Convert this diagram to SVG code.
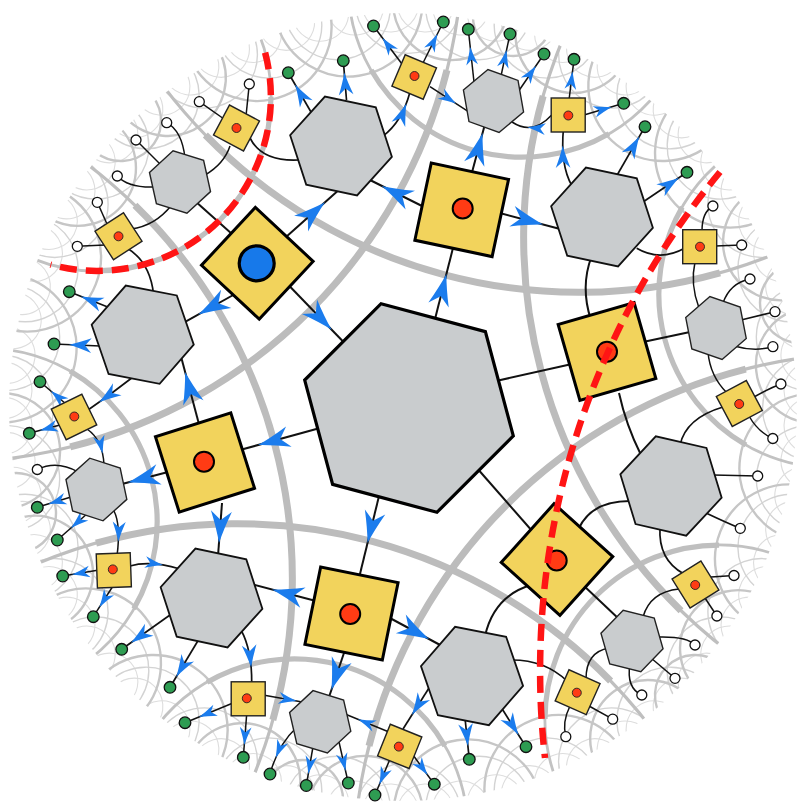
<svg xmlns="http://www.w3.org/2000/svg" width="798" height="809" viewBox="0 0 798 809">
<defs>
<style>
.gA{fill:none;stroke:#bfbfbf;stroke-width:3.2}
.gB{fill:none;stroke:#bcbcbc;stroke-width:7}
.mA{fill:none;stroke:#c2c2c2;stroke-width:2.8}
.mB{fill:none;stroke:#bfbfbf;stroke-width:5.2}
.h2{fill:none;stroke:#c6c6c6;stroke-width:2.4}
.r2{fill:none;stroke:#d3d3d3;stroke-width:1.4}
.r1{fill:none;stroke:#dddddd;stroke-width:1.1}
.cb{fill:none;stroke:#111;stroke-width:2}
.cm{fill:none;stroke:#111;stroke-width:1.7}
.cs{fill:none;stroke:#111;stroke-width:1.5}
.ar{fill:#1b7ced}
.hL{fill:#c9ccce;stroke:#000;stroke-width:3.2}
.hM{fill:#c9ccce;stroke:#111;stroke-width:1.8}
.hS{fill:#c9ccce;stroke:#222;stroke-width:1.4}
.sL{fill:#f2d35c;stroke:#000;stroke-width:3}
.sS{fill:#f2d35c;stroke:#222;stroke-width:1.4}
.rdL{fill:#ff3b14;stroke:#000;stroke-width:2}
.rdS{fill:#ff3b14;stroke:#222;stroke-width:0.9}
.bl{fill:#1779ea;stroke:#000;stroke-width:3.2}
.gr{fill:#2e9c52;stroke:#111;stroke-width:1.3}
.wh{fill:#fff;stroke:#111;stroke-width:1.3}
.red{fill:none;stroke:#ff1414;stroke-width:6.5;stroke-dasharray:17 9}
</style>
<clipPath id="disk"><circle cx="403" cy="407" r="394"/></clipPath>
<path id="g0" d="M655.4,88.6 A521.4,521.4 0 0 0 655.4,727.4"/>
<path id="g0i" d="M619.3,141.6 A521.4,521.4 0 0 0 619.3,674.4"/>
<path id="m0" d="M779.1,248.2 A173.9,173.9 0 0 0 779.1,567.8"/>
<path id="m0i" d="M724.9,284.9 A173.9,173.9 0 0 0 724.9,531.1"/>
<path id="ha" d="M805.3,334.65 A74.5,74.5 0 0 0 805.3,481.35"/>
<path id="hxe" d="M810,368.1 A40.1,40.1 0 0 0 810,447.9"/>
<path id="hxd" d="M807.9,350.6 A58,58 0 0 0 807.9,465.4"/>
<path id="r1" d="M811,379.8 A28.25,28.25 0 0 0 811,436.2"/>
<path id="r2" d="M808.5,355.3 A53.2,53.2 0 0 0 808.5,460.7"/>
<polygon id="hexL" points="108,0 54,93.53 -54,93.53 -108,0 -54,-93.53 54,-93.53"/>
<polygon id="hexM" points="52,0 26,45.03 -26,45.03 -52,0 -26,-45.03 26,-45.03"/>
<polygon id="hexS" points="32,0 16,27.71 -16,27.71 -32,0 -16,-27.71 16,-27.71"/>
<rect id="sqL" x="-39.5" y="-39.5" width="79" height="79"/>
<rect id="sqS" x="-17" y="-17" width="34" height="34"/>
<path id="arr" d="M0,0 Q-14,-3.5 -32,-10.5 L-23,0 L-32,10.5 Q-14,3.5 0,0 Z"/>
</defs>
<rect width="798" height="809" fill="#fff"/>
<g id="grid" clip-path="url(#disk)">
<g class="r1">
<use href="#r1" transform="rotate(2.5 408 408)"/><use href="#r1" transform="rotate(7.5 408 408)"/><use href="#r1" transform="rotate(12.5 408 408)"/><use href="#r1" transform="rotate(17.5 408 408)"/><use href="#r1" transform="rotate(22.5 408 408)"/><use href="#r1" transform="rotate(27.5 408 408)"/><use href="#r1" transform="rotate(32.5 408 408)"/><use href="#r1" transform="rotate(37.5 408 408)"/><use href="#r1" transform="rotate(42.5 408 408)"/><use href="#r1" transform="rotate(47.5 408 408)"/><use href="#r1" transform="rotate(52.5 408 408)"/><use href="#r1" transform="rotate(57.5 408 408)"/><use href="#r1" transform="rotate(62.5 408 408)"/><use href="#r1" transform="rotate(67.5 408 408)"/><use href="#r1" transform="rotate(72.5 408 408)"/><use href="#r1" transform="rotate(77.5 408 408)"/><use href="#r1" transform="rotate(82.5 408 408)"/><use href="#r1" transform="rotate(87.5 408 408)"/><use href="#r1" transform="rotate(92.5 408 408)"/><use href="#r1" transform="rotate(97.5 408 408)"/><use href="#r1" transform="rotate(102.5 408 408)"/><use href="#r1" transform="rotate(107.5 408 408)"/><use href="#r1" transform="rotate(112.5 408 408)"/><use href="#r1" transform="rotate(117.5 408 408)"/><use href="#r1" transform="rotate(122.5 408 408)"/><use href="#r1" transform="rotate(127.5 408 408)"/><use href="#r1" transform="rotate(132.5 408 408)"/><use href="#r1" transform="rotate(137.5 408 408)"/><use href="#r1" transform="rotate(142.5 408 408)"/><use href="#r1" transform="rotate(147.5 408 408)"/><use href="#r1" transform="rotate(152.5 408 408)"/><use href="#r1" transform="rotate(157.5 408 408)"/><use href="#r1" transform="rotate(162.5 408 408)"/><use href="#r1" transform="rotate(167.5 408 408)"/><use href="#r1" transform="rotate(172.5 408 408)"/><use href="#r1" transform="rotate(177.5 408 408)"/><use href="#r1" transform="rotate(182.5 408 408)"/><use href="#r1" transform="rotate(187.5 408 408)"/><use href="#r1" transform="rotate(192.5 408 408)"/><use href="#r1" transform="rotate(197.5 408 408)"/><use href="#r1" transform="rotate(202.5 408 408)"/><use href="#r1" transform="rotate(207.5 408 408)"/><use href="#r1" transform="rotate(212.5 408 408)"/><use href="#r1" transform="rotate(217.5 408 408)"/><use href="#r1" transform="rotate(222.5 408 408)"/><use href="#r1" transform="rotate(227.5 408 408)"/><use href="#r1" transform="rotate(232.5 408 408)"/><use href="#r1" transform="rotate(237.5 408 408)"/><use href="#r1" transform="rotate(242.5 408 408)"/><use href="#r1" transform="rotate(247.5 408 408)"/><use href="#r1" transform="rotate(252.5 408 408)"/><use href="#r1" transform="rotate(257.5 408 408)"/><use href="#r1" transform="rotate(262.5 408 408)"/><use href="#r1" transform="rotate(267.5 408 408)"/><use href="#r1" transform="rotate(272.5 408 408)"/><use href="#r1" transform="rotate(277.5 408 408)"/><use href="#r1" transform="rotate(282.5 408 408)"/><use href="#r1" transform="rotate(287.5 408 408)"/><use href="#r1" transform="rotate(292.5 408 408)"/><use href="#r1" transform="rotate(297.5 408 408)"/><use href="#r1" transform="rotate(302.5 408 408)"/><use href="#r1" transform="rotate(307.5 408 408)"/><use href="#r1" transform="rotate(312.5 408 408)"/><use href="#r1" transform="rotate(317.5 408 408)"/><use href="#r1" transform="rotate(322.5 408 408)"/><use href="#r1" transform="rotate(327.5 408 408)"/><use href="#r1" transform="rotate(332.5 408 408)"/><use href="#r1" transform="rotate(337.5 408 408)"/><use href="#r1" transform="rotate(342.5 408 408)"/><use href="#r1" transform="rotate(347.5 408 408)"/><use href="#r1" transform="rotate(352.5 408 408)"/><use href="#r1" transform="rotate(357.5 408 408)"/>
</g>
<g class="r2">
<use href="#r2" transform="rotate(0 408 408)"/><use href="#r2" transform="rotate(10 408 408)"/><use href="#r2" transform="rotate(20 408 408)"/><use href="#r2" transform="rotate(30 408 408)"/><use href="#r2" transform="rotate(40 408 408)"/><use href="#r2" transform="rotate(50 408 408)"/><use href="#r2" transform="rotate(60 408 408)"/><use href="#r2" transform="rotate(70 408 408)"/><use href="#r2" transform="rotate(80 408 408)"/><use href="#r2" transform="rotate(90 408 408)"/><use href="#r2" transform="rotate(100 408 408)"/><use href="#r2" transform="rotate(110 408 408)"/><use href="#r2" transform="rotate(120 408 408)"/><use href="#r2" transform="rotate(130 408 408)"/><use href="#r2" transform="rotate(140 408 408)"/><use href="#r2" transform="rotate(150 408 408)"/><use href="#r2" transform="rotate(160 408 408)"/><use href="#r2" transform="rotate(170 408 408)"/><use href="#r2" transform="rotate(180 408 408)"/><use href="#r2" transform="rotate(190 408 408)"/><use href="#r2" transform="rotate(200 408 408)"/><use href="#r2" transform="rotate(210 408 408)"/><use href="#r2" transform="rotate(220 408 408)"/><use href="#r2" transform="rotate(230 408 408)"/><use href="#r2" transform="rotate(240 408 408)"/><use href="#r2" transform="rotate(250 408 408)"/><use href="#r2" transform="rotate(260 408 408)"/><use href="#r2" transform="rotate(270 408 408)"/><use href="#r2" transform="rotate(280 408 408)"/><use href="#r2" transform="rotate(290 408 408)"/><use href="#r2" transform="rotate(300 408 408)"/><use href="#r2" transform="rotate(310 408 408)"/><use href="#r2" transform="rotate(320 408 408)"/><use href="#r2" transform="rotate(330 408 408)"/><use href="#r2" transform="rotate(340 408 408)"/><use href="#r2" transform="rotate(350 408 408)"/>
</g>
<g class="h2">
<use href="#ha" transform="rotate(-111.59 408 408)"/><use href="#ha" transform="rotate(-98.41 408 408)"/><use href="#ha" transform="rotate(-51.59 408 408)"/><use href="#ha" transform="rotate(-38.41 408 408)"/><use href="#ha" transform="rotate(8.41 408 408)"/><use href="#ha" transform="rotate(21.59 408 408)"/><use href="#ha" transform="rotate(68.41 408 408)"/><use href="#ha" transform="rotate(81.59 408 408)"/><use href="#ha" transform="rotate(128.41 408 408)"/><use href="#ha" transform="rotate(141.59 408 408)"/><use href="#ha" transform="rotate(188.41 408 408)"/><use href="#ha" transform="rotate(201.59 408 408)"/>
<use href="#hxe" transform="rotate(-135 408 408)"/><use href="#hxe" transform="rotate(-75 408 408)"/><use href="#hxe" transform="rotate(-15 408 408)"/><use href="#hxe" transform="rotate(45 408 408)"/><use href="#hxe" transform="rotate(105 408 408)"/><use href="#hxe" transform="rotate(165 408 408)"/>
<use href="#hxd" transform="rotate(-143.95 408 408)"/><use href="#hxd" transform="rotate(-126.05 408 408)"/><use href="#hxd" transform="rotate(-83.95 408 408)"/><use href="#hxd" transform="rotate(-66.05 408 408)"/><use href="#hxd" transform="rotate(-23.95 408 408)"/><use href="#hxd" transform="rotate(-6.05 408 408)"/><use href="#hxd" transform="rotate(36.05 408 408)"/><use href="#hxd" transform="rotate(53.95 408 408)"/><use href="#hxd" transform="rotate(96.05 408 408)"/><use href="#hxd" transform="rotate(113.95 408 408)"/><use href="#hxd" transform="rotate(156.05 408 408)"/><use href="#hxd" transform="rotate(173.95 408 408)"/>
</g>
<g class="mA">
<use href="#m0" transform="rotate(-135 408 408)"/><use href="#m0" transform="rotate(-75 408 408)"/><use href="#m0" transform="rotate(-15 408 408)"/><use href="#m0" transform="rotate(45 408 408)"/><use href="#m0" transform="rotate(105 408 408)"/><use href="#m0" transform="rotate(165 408 408)"/>
</g>
<g class="mB">
<use href="#m0i" transform="rotate(-135 408 408)"/><use href="#m0i" transform="rotate(-75 408 408)"/><use href="#m0i" transform="rotate(-15 408 408)"/><use href="#m0i" transform="rotate(45 408 408)"/><use href="#m0i" transform="rotate(105 408 408)"/><use href="#m0i" transform="rotate(165 408 408)"/>
</g>
<g class="gA">
<use href="#g0" transform="rotate(-135 408 408)"/><use href="#g0" transform="rotate(-75 408 408)"/><use href="#g0" transform="rotate(-15 408 408)"/><use href="#g0" transform="rotate(45 408 408)"/><use href="#g0" transform="rotate(105 408 408)"/><use href="#g0" transform="rotate(165 408 408)"/>
</g>
<g class="gB">
<use href="#g0i" transform="rotate(-135 408 408)"/><use href="#g0i" transform="rotate(-75 408 408)"/><use href="#g0i" transform="rotate(-15 408 408)"/><use href="#g0i" transform="rotate(45 408 408)"/><use href="#g0i" transform="rotate(105 408 408)"/><use href="#g0i" transform="rotate(165 408 408)"/>
</g>
</g>
<g id="connectors">
<g class="cb">
<path d="M434,323 L454,244"/>
<path d="M496,381 L572,364"/>
<path d="M476,467 L533,532"/>
<path d="M380,492 L359,578"/>
<path d="M320,428 L240,450"/>
<path d="M287,283.5 L345,343.5"/>
<path d="M286,237 L341,188"/>
<path d="M235,294 L182,323.7"/>
<path d="M232,234 L195,201"/>
<path d="M424,207 L368,179"/>
<path d="M496,212 L562,229.5"/>
<path d="M471,176 L485,124"/>
<path d="M591.7,256 Q580,287 591,320"/>
<path d="M643,342 L690,332"/>
<path d="M619,393 Q626,425 641,455"/>
<path d="M579,528 Q592,501 630,501"/>
<path d="M583,585 L620,620"/>
<path d="M531,585 Q494,596 485,636"/>
<path d="M316,601 L251,584"/>
<path d="M388,617 L442,646"/>
<path d="M345,650 L329,697"/>
<path d="M200,428 L180.6,355"/>
<path d="M170,471.5 L122,484"/>
<path d="M222,503 L218,556"/>
</g>
<g class="cm">
<path d="M383,136 Q402,122 410,92"/>
<path d="M346.5,100 L343.3,60.7"/>
<path d="M311,112 L288.3,72.7"/>
<path d="M250,138 Q262,162 299,160"/>
<path d="M572,186 Q560,165 563.5,128"/>
<path d="M616,177 L645,126.7"/>
<path d="M643,202 L687,172.3"/>
<path d="M636.7,248.3 Q660,262 685,248"/>
<path d="M723,407 Q686,418 680,445"/>
<path d="M713,475 L757.7,476"/>
<path d="M706,513 Q725,522 740,528.3"/>
<path d="M660,527 Q658,560 684,574"/>
<path d="M501.7,708.3 L526,746.7"/>
<path d="M465,718 L469.3,759.3"/>
<path d="M429,688 L403,729"/>
<path d="M512,660 Q545,660 567,681"/>
<path d="M170,615 L121.7,649.3"/>
<path d="M199,639 L170,687.3"/>
<path d="M241,630 Q252,650 251.7,683"/>
<path d="M130,566 Q150,560 180,569"/>
<path d="M109,307.5 L69.3,291.7"/>
<path d="M100,346 L54,344"/>
<path d="M131.7,378 Q110,395 88,410"/>
<path d="M127,248 Q150,262 153.5,294"/>
</g>
<g class="cs">
<path d="M430,86.7 L468,111.3"/>
<path d="M551.7,115 Q532.7,135.7 512,122"/>
<path d="M474,82 L468.3,29.3"/>
<path d="M501,76 L510,34"/>
<path d="M518,92 L544,54"/>
<path d="M402,64 L373.5,26"/>
<path d="M422,65 L443.3,22"/>
<path d="M569,100 L574,59.3"/>
<path d="M584,115 L623.7,103.3"/>
<path d="M246,116 Q248,97 249.3,84"/>
<path d="M224,119 L199.3,101.7"/>
<path d="M230,146 Q224,164 205,175"/>
<path d="M185,158 Q182,131 166.7,122.7"/>
<path d="M161,165 L136,140"/>
<path d="M155,187 Q128,188 117.3,176"/>
<path d="M171.7,205 Q155,226 131,229"/>
<path d="M107,224 L97.3,202.3"/>
<path d="M105,245 L77.3,246.3"/>
<path d="M78,472 Q57,460 37.3,469.5"/>
<path d="M71,497 L37.3,507.3"/>
<path d="M88,513 L57.3,540"/>
<path d="M87,429 Q103,440 104,465"/>
<path d="M114,511 Q121,525 117,556"/>
<path d="M66,404 L40,381.7"/>
<path d="M60,425 L29.3,433.3"/>
<path d="M99,570 L62.7,576"/>
<path d="M113,586 L93.3,616.7"/>
<path d="M233,703 L185,722.7"/>
<path d="M246.7,714 L243.3,757.3"/>
<path d="M263,695 L305,702.6"/>
<path d="M296,728 Q278,745 270,774"/>
<path d="M313.3,745 L306.3,785.5"/>
<path d="M339,742 L348.3,783"/>
<path d="M389,732 L345,714"/>
<path d="M390,759 L375,795"/>
<path d="M413,755 L434.3,784.2"/>
<path d="M589,706 L612.7,719.2"/>
<path d="M570,706 Q562,722 565.8,736.7"/>
<path d="M609,648 Q586,652 586,679"/>
<path d="M657,637 Q687,636 695,645"/>
<path d="M651,658 L675,678.3"/>
<path d="M630,664 Q626,688 641.8,695"/>
<path d="M679,589 Q650,592 643,617"/>
<path d="M711,577 L734,575.5"/>
<path d="M705,598 L716.9,616"/>
<path d="M754,397 Q770,388 780.9,384"/>
<path d="M749,416 Q758,432 772.8,438.5"/>
<path d="M708,352 Q710,376 727,393"/>
<path d="M723,303 Q730,283 750,279"/>
<path d="M741,320 L775,311.7"/>
<path d="M734,346 Q755,352 772.9,346.7"/>
<path d="M695,262 Q690,284 699,308"/>
<path d="M702,231 Q702,212 712.9,206"/>
<path d="M715,246 L741.7,245"/>
</g>
<g class="ar">
<use href="#arr" transform="translate(446.4,274) rotate(-75.8)"/>
<use href="#arr" transform="translate(367.5,543) rotate(103.7)"/>
<use href="#arr" transform="translate(258,445) rotate(164.6)"/>
<use href="#arr" transform="translate(331.7,329.7) rotate(46)"/>
<use href="#arr" transform="translate(325,202.3) rotate(-41.7)"/>
<use href="#arr" transform="translate(198.3,314.6) rotate(150.7)"/>
<use href="#arr" transform="translate(381.7,185.9) rotate(-153.4)"/>
<use href="#arr" transform="translate(543,224.5) rotate(14.9)"/>
<use href="#arr" transform="translate(482.6,133) rotate(-74.9)"/>
<use href="#arr" transform="translate(272,589.5) rotate(-165.3)"/>
<use href="#arr" transform="translate(429,639) rotate(28.2)"/>
<use href="#arr" transform="translate(331.4,690) rotate(108.8)"/>
<use href="#arr" transform="translate(185.1,372) rotate(-104.9)"/>
<use href="#arr" transform="translate(128,482.4) rotate(165.4)"/>
<use href="#arr" transform="translate(219,543) rotate(94.3)"/>
<use href="#arr" transform="translate(406.4,103.4) rotate(-69) scale(0.7)"/>
<use href="#arr" transform="translate(344.3,72.5) rotate(-94.7) scale(0.7)"/>
<use href="#arr" transform="translate(295.1,84.5) rotate(-120) scale(0.7)"/>
<use href="#arr" transform="translate(562.7,145.5) rotate(-91) scale(0.7)"/>
<use href="#arr" transform="translate(639.3,136.5) rotate(-60) scale(0.7)"/>
<use href="#arr" transform="translate(679,177.7) rotate(-34) scale(0.7)"/>
<use href="#arr" transform="translate(518.6,735) rotate(57.7) scale(0.7)"/>
<use href="#arr" transform="translate(467.9,746) rotate(84) scale(0.7)"/>
<use href="#arr" transform="translate(411.9,715) rotate(122.4) scale(0.7)"/>
<use href="#arr" transform="translate(131,642.7) rotate(144.6) scale(0.7)"/>
<use href="#arr" transform="translate(176.2,677) rotate(121) scale(0.7)"/>
<use href="#arr" transform="translate(251.1,667.3) rotate(85) scale(0.7)"/>
<use href="#arr" transform="translate(81,296.4) rotate(-158.3) scale(0.7)"/>
<use href="#arr" transform="translate(69,344.7) rotate(-177.5) scale(0.7)"/>
<use href="#arr" transform="translate(99,402.3) rotate(144.7) scale(0.7)"/>
<use href="#arr" transform="translate(456,103.5) rotate(32.9) scale(0.56)"/>
<use href="#arr" transform="translate(527.5,127.3) rotate(186) scale(0.56)"/>
<use href="#arr" transform="translate(470.2,47) rotate(-96.2) scale(0.56)"/>
<use href="#arr" transform="translate(506.6,50) rotate(-77.9) scale(0.56)"/>
<use href="#arr" transform="translate(535.8,66) rotate(-55.6) scale(0.56)"/>
<use href="#arr" transform="translate(382.5,38) rotate(-126.9) scale(0.56)"/>
<use href="#arr" transform="translate(437.4,34) rotate(-63.6) scale(0.56)"/>
<use href="#arr" transform="translate(572.5,71.5) rotate(-83) scale(0.56)"/>
<use href="#arr" transform="translate(611.5,106.9) rotate(-16.4) scale(0.56)"/>
<use href="#arr" transform="translate(102.6,453.4) rotate(77.5) scale(0.56)"/>
<use href="#arr" transform="translate(118.3,541.6) rotate(92.7) scale(0.62)"/>
<use href="#arr" transform="translate(48.5,503.9) rotate(163) scale(0.56)"/>
<use href="#arr" transform="translate(71,528) rotate(138.7) scale(0.56)"/>
<use href="#arr" transform="translate(51,391.1) rotate(-139.4) scale(0.56)"/>
<use href="#arr" transform="translate(40,430.4) rotate(164.9) scale(0.56)"/>
<use href="#arr" transform="translate(72,574.5) rotate(170.6) scale(0.56)"/>
<use href="#arr" transform="translate(99.4,607.2) rotate(122.7) scale(0.56)"/>
<use href="#arr" transform="translate(162.9,564.9) rotate(9.5) scale(0.56)"/>
<use href="#arr" transform="translate(199,717) rotate(157.7) scale(0.56)"/>
<use href="#arr" transform="translate(244.3,745) rotate(94.5) scale(0.56)"/>
<use href="#arr" transform="translate(296.5,701.1) rotate(10.3) scale(0.56)"/>
<use href="#arr" transform="translate(275.7,757.7) rotate(113) scale(0.56)"/>
<use href="#arr" transform="translate(308.3,774) rotate(99.8) scale(0.56)"/>
<use href="#arr" transform="translate(345.6,771) rotate(77.2) scale(0.56)"/>
<use href="#arr" transform="translate(358,719.3) rotate(202) scale(0.56)"/>
<use href="#arr" transform="translate(379.4,784.5) rotate(112.6) scale(0.56)"/>
<use href="#arr" transform="translate(427.6,775) rotate(53.9) scale(0.56)"/>
</g>
</g>
<g id="nodes">
<g id="h0"><use href="#hexL" class="hL" transform="translate(409,408) rotate(15)"/></g>
<g id="s-top"><use href="#sqL" class="sL" transform="translate(461.7,209.8) rotate(12)"/><circle class="rdL" cx="462.7" cy="208.5" r="10"/></g>
<g id="s-right"><use href="#sqL" class="sL" transform="translate(607,351.5) rotate(-16)"/><circle class="rdL" cx="607" cy="351.7" r="10"/></g>
<g id="s-br"><use href="#sqL" class="sL" transform="translate(557,559.5) rotate(42)"/><circle class="rdL" cx="556.7" cy="560.5" r="10"/></g>
<g id="s-bottom"><use href="#sqL" class="sL" transform="translate(351.5,613.5) rotate(11.5)"/><circle class="rdL" cx="350.2" cy="614" r="10"/></g>
<g id="s-left"><use href="#sqL" class="sL" transform="translate(205,462.5) rotate(-17.5)"/><circle class="rdL" cx="204" cy="461.7" r="10"/></g>
<g id="s-tl"><use href="#sqL" class="sL" transform="translate(257.3,263.3) rotate(43)"/><circle class="bl" cx="256.7" cy="263.3" r="17.5"/></g>
<g id="h-tl"><use href="#hexM" class="hM" transform="translate(341,146) rotate(12)"/></g>
<g id="h-tr"><use href="#hexM" class="hM" transform="translate(602,217) rotate(12)"/></g>
<g id="h-r"><use href="#hexM" class="hM" transform="translate(671,486) rotate(13)"/></g>
<g id="h-b"><use href="#hexM" class="hM" transform="translate(472,676) rotate(11)"/></g>
<g id="h-bl"><use href="#hexM" class="hM" transform="translate(211.5,598) rotate(12)"/></g>
<g id="h-l"><use href="#hexM" class="hM" transform="translate(142.7,334.7) rotate(11)"/></g>
<g id="hx-a"><use href="#hexS" class="hS" transform="translate(180,182) rotate(17.5)"/></g>
<g id="hx-t"><use href="#hexS" class="hS" transform="translate(493.5,101) rotate(20)"/></g>
<g id="hx-r"><use href="#hexS" class="hS" transform="translate(716,328) rotate(19)"/></g>
<g id="hx-br"><use href="#hexS" class="hS" transform="translate(632,641) rotate(14)"/></g>
<g id="hx-bl"><use href="#hexS" class="hS" transform="translate(320.2,721.8) rotate(17)"/></g>
<g id="hx-l"><use href="#hexS" class="hS" transform="translate(96.4,489.5) rotate(18)"/></g>
<g id="q-t1"><use href="#sqS" class="sS" transform="translate(414.2,77) rotate(23)"/><circle class="rdS" cx="414.5" cy="76" r="4.5"/></g>
<g id="q-a"><use href="#sqS" class="sS" transform="translate(236.5,128) rotate(28)"/><circle class="rdS" cx="236.5" cy="128" r="4.5"/></g>
<g id="q-t2"><use href="#sqS" class="sS" transform="translate(568.2,115)"/><circle class="rdS" cx="568.3" cy="115.5" r="4.5"/></g>
<g id="q-t3"><use href="#sqS" class="sS" transform="translate(699.7,246.7)"/><circle class="rdS" cx="700" cy="246.7" r="4.5"/></g>
<g id="q-r2"><use href="#sqS" class="sS" transform="translate(739.3,403.5) rotate(-28)"/><circle class="rdS" cx="739.2" cy="404" r="4.5"/></g>
<g id="q-br2"><use href="#sqS" class="sS" transform="translate(695.5,584.5) rotate(-32)"/><circle class="rdS" cx="695.2" cy="585" r="4.5"/></g>
<g id="q-b3"><use href="#sqS" class="sS" transform="translate(577.6,692.2) rotate(24)"/><circle class="rdS" cx="576.8" cy="692.7" r="4.5"/></g>
<g id="q-b5"><use href="#sqS" class="sS" transform="translate(399.7,746.4) rotate(22)"/><circle class="rdS" cx="398.8" cy="746.6" r="4.5"/></g>
<g id="q-e"><use href="#sqS" class="sS" transform="translate(248.2,698.8)"/><circle class="rdS" cx="246.8" cy="698.3" r="4.5"/></g>
<g id="q-d"><use href="#sqS" class="sS" transform="translate(113.8,570.4) rotate(-2)"/><circle class="rdS" cx="112.8" cy="569.4" r="4.5"/></g>
<g id="q-c"><use href="#sqS" class="sS" transform="translate(74,417) rotate(-26)"/><circle class="rdS" cx="74.3" cy="416.5" r="4.5"/></g>
<g id="q-b"><use href="#sqS" class="sS" transform="translate(118.5,236.2) rotate(-33)"/><circle class="rdS" cx="118.5" cy="236.3" r="4.5"/></g>
<g id="leaf-g1"><circle class="gr" cx="373.5" cy="26" r="5.8"/></g>
<g id="leaf-g2"><circle class="gr" cx="343.3" cy="60.7" r="5.8"/></g>
<g id="leaf-g3"><circle class="gr" cx="288.3" cy="72.7" r="5.8"/></g>
<g id="leaf-g4"><circle class="gr" cx="443.3" cy="22" r="5.8"/></g>
<g id="leaf-g5"><circle class="gr" cx="468.3" cy="29.3" r="5.8"/></g>
<g id="leaf-g6"><circle class="gr" cx="510" cy="34" r="5.8"/></g>
<g id="leaf-g7"><circle class="gr" cx="544" cy="54" r="5.8"/></g>
<g id="leaf-g8"><circle class="gr" cx="574" cy="59.3" r="5.8"/></g>
<g id="leaf-g9"><circle class="gr" cx="623.7" cy="103.3" r="5.8"/></g>
<g id="leaf-g10"><circle class="gr" cx="645" cy="126.7" r="5.8"/></g>
<g id="leaf-g11"><circle class="gr" cx="687" cy="172.3" r="5.8"/></g>
<g id="leaf-g12"><circle class="gr" cx="69.3" cy="291.7" r="5.8"/></g>
<g id="leaf-g13"><circle class="gr" cx="54" cy="344" r="5.8"/></g>
<g id="leaf-g14"><circle class="gr" cx="40" cy="381.7" r="5.8"/></g>
<g id="leaf-g15"><circle class="gr" cx="29.3" cy="433.3" r="5.8"/></g>
<g id="leaf-g16"><circle class="gr" cx="37.3" cy="507.3" r="5.8"/></g>
<g id="leaf-g17"><circle class="gr" cx="57.3" cy="540" r="5.8"/></g>
<g id="leaf-g18"><circle class="gr" cx="62.7" cy="576" r="5.8"/></g>
<g id="leaf-g19"><circle class="gr" cx="93.3" cy="616.7" r="5.8"/></g>
<g id="leaf-g20"><circle class="gr" cx="121.7" cy="649.3" r="5.8"/></g>
<g id="leaf-g21"><circle class="gr" cx="170" cy="687.3" r="5.8"/></g>
<g id="leaf-g22"><circle class="gr" cx="185" cy="722.7" r="5.8"/></g>
<g id="leaf-g23"><circle class="gr" cx="243.3" cy="757.3" r="5.8"/></g>
<g id="leaf-g24"><circle class="gr" cx="270" cy="774" r="5.8"/></g>
<g id="leaf-g25"><circle class="gr" cx="306.3" cy="785.5" r="5.8"/></g>
<g id="leaf-g26"><circle class="gr" cx="348.3" cy="783" r="5.8"/></g>
<g id="leaf-g27"><circle class="gr" cx="375" cy="795" r="5.8"/></g>
<g id="leaf-g28"><circle class="gr" cx="434.3" cy="784.2" r="5.8"/></g>
<g id="leaf-g29"><circle class="gr" cx="469.3" cy="759.3" r="5.8"/></g>
<g id="leaf-g30"><circle class="gr" cx="526" cy="746.7" r="5.8"/></g>
<g id="leaf-w1"><circle class="wh" cx="249.3" cy="84" r="5"/></g>
<g id="leaf-w2"><circle class="wh" cx="199.3" cy="101.7" r="5"/></g>
<g id="leaf-w3"><circle class="wh" cx="166.7" cy="122.7" r="5"/></g>
<g id="leaf-w4"><circle class="wh" cx="136" cy="140" r="5"/></g>
<g id="leaf-w5"><circle class="wh" cx="117.3" cy="176" r="5"/></g>
<g id="leaf-w6"><circle class="wh" cx="97.3" cy="202.3" r="5"/></g>
<g id="leaf-w7"><circle class="wh" cx="77.3" cy="246.3" r="5"/></g>
<g id="leaf-w8"><circle class="wh" cx="37.3" cy="469.5" r="5"/></g>
<g id="leaf-w9"><circle class="wh" cx="712.9" cy="206" r="5"/></g>
<g id="leaf-w10"><circle class="wh" cx="741.7" cy="245" r="5"/></g>
<g id="leaf-w11"><circle class="wh" cx="750" cy="279" r="5"/></g>
<g id="leaf-w12"><circle class="wh" cx="775" cy="311.7" r="5"/></g>
<g id="leaf-w13"><circle class="wh" cx="772.9" cy="346.7" r="5"/></g>
<g id="leaf-w14"><circle class="wh" cx="780.9" cy="384" r="5"/></g>
<g id="leaf-w15"><circle class="wh" cx="772.8" cy="438.5" r="5"/></g>
<g id="leaf-w16"><circle class="wh" cx="757.7" cy="476" r="5"/></g>
<g id="leaf-w17"><circle class="wh" cx="740.3" cy="528.3" r="5"/></g>
<g id="leaf-w18"><circle class="wh" cx="734" cy="575.5" r="5"/></g>
<g id="leaf-w19"><circle class="wh" cx="716.9" cy="616" r="5"/></g>
<g id="leaf-w20"><circle class="wh" cx="695" cy="645" r="5"/></g>
<g id="leaf-w21"><circle class="wh" cx="675" cy="678.3" r="5"/></g>
<g id="leaf-w22"><circle class="wh" cx="641.8" cy="695" r="5"/></g>
<g id="leaf-w23"><circle class="wh" cx="612.7" cy="719.2" r="5"/></g>
<g id="leaf-w24"><circle class="wh" cx="565.8" cy="736.7" r="5"/></g>
</g>
<g id="boundaries">
<path class="red" d="M265.1,52.6 A173.9,173.9 0 0 1 50.5,264.6"/>
<path class="red" d="M720,172 A781,781 0 0 0 545,758"/>
</g>
</svg>
